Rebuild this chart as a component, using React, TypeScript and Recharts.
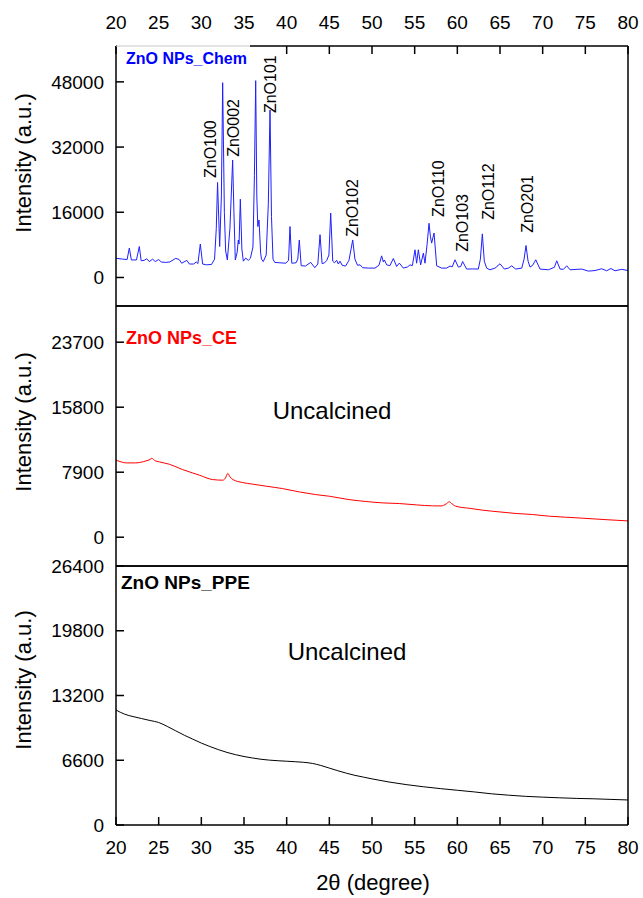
import React from 'react';
import { LineChart, Line, XAxis, YAxis, ReferenceDot } from 'recharts';

const FONT = '"Liberation Sans", Arial, Helvetica, sans-serif';

// 2θ axis, shared by the three panels
const xMajorTicks = [20, 25, 30, 35, 40, 45, 50, 55, 60, 65, 70, 75, 80];
const xMinorTicks = [22.5, 27.5, 32.5, 37.5, 42.5, 47.5, 52.5, 57.5, 62.5, 67.5, 72.5, 77.5];

// ZnO NPs_Chem (2θ, intensity)
const chemPattern: [number, number][] = [
  [20.0, 4700], [20.8, 4500], [21.3, 4400], [21.56, 7200], [21.8, 4300], [22.4, 4300],
  [22.73, 7600], [22.95, 4100], [23.3, 4200], [23.6, 4600], [23.9, 3900], [24.3, 4500],
  [24.6, 3900], [25.0, 4400], [25.3, 3800], [25.8, 3700], [26.3, 3800], [27.0, 4700],
  [27.4, 4400], [27.7, 3500], [28.3, 4200], [28.6, 3300], [29.1, 3300], [29.4, 3800],
  [29.6, 3400], [29.88, 8200], [30.15, 3300], [30.6, 3100], [31.2, 3200], [31.55, 4500],
  [31.75, 12000], [31.9, 23300], [32.15, 7600], [32.35, 20000], [32.5, 47800], [32.7, 16000],
  [32.85, 6500], [33.05, 4300], [33.35, 12000], [33.67, 28800], [33.82, 16000], [33.98, 4300],
  [34.2, 6200], [34.33, 9200], [34.42, 8200], [34.57, 19200], [34.75, 7000], [34.92, 4000],
  [35.2, 4750], [35.5, 4200], [35.75, 4700], [36.05, 7500], [36.22, 25000], [36.37, 48300],
  [36.5, 20000], [36.62, 12500], [36.76, 14100], [36.95, 6000], [37.05, 4500], [37.26, 3900],
  [37.6, 5500], [37.85, 18000], [38.05, 41100], [38.22, 15000], [38.4, 4500], [38.6, 3700],
  [39.2, 3600], [39.9, 3500], [40.22, 4200], [40.39, 12500], [40.6, 3500], [41.1, 3600],
  [41.3, 4500], [41.48, 9200], [41.7, 2900], [42.2, 2800], [42.82, 3700], [43.3, 2400],
  [43.65, 3300], [43.91, 10500], [44.15, 3400], [44.45, 3600], [44.7, 4200], [44.95, 5500],
  [45.16, 15800], [45.4, 4000], [45.6, 3600], [45.86, 4200], [46.05, 3300], [46.25, 4000],
  [46.5, 3000], [46.9, 2800], [47.3, 4200], [47.55, 7000], [47.74, 9200], [48.0, 4500],
  [48.3, 3000], [48.6, 3100], [48.9, 2400], [49.6, 2300], [50.35, 2300], [50.82, 3000],
  [51.13, 5300], [51.33, 3800], [51.45, 4300], [51.72, 3100], [52.1, 2900], [52.5, 4660],
  [52.89, 2700], [53.2, 3530], [53.67, 2300], [54.18, 2600], [54.45, 3100], [54.73, 2900],
  [55.04, 6790], [55.23, 3500], [55.43, 6790], [55.7, 3100], [56.02, 5980], [56.21, 3500],
  [56.45, 8000], [56.68, 13300], [56.85, 10000], [56.99, 8430], [57.27, 10900], [57.58, 2860],
  [58.16, 2300], [58.75, 2300], [59.14, 2800], [59.4, 2600], [59.73, 4340], [60.12, 2550],
  [60.4, 2700], [60.62, 3920], [61.09, 2060], [61.8, 2100], [62.46, 2060], [62.7, 4500],
  [62.93, 10700], [63.16, 4000], [63.44, 2300], [63.83, 1890], [64.42, 2300], [65.0, 3360],
  [65.51, 2060], [65.98, 2300], [66.37, 2860], [66.84, 2060], [67.55, 2300], [67.82, 4500],
  [68.05, 7840], [68.29, 4000], [68.52, 2550], [68.83, 3000], [69.19, 4340], [69.69, 2060],
  [70.67, 1890], [71.37, 2500], [71.65, 4100], [72.04, 2060], [72.43, 2000], [72.82, 2860],
  [73.21, 1890], [74.58, 2060], [75.36, 1560], [76.14, 1700], [76.92, 2140], [77.5, 1640],
  [78.0, 2200], [78.48, 1640], [79.26, 2000], [80.0, 1700],
];

// ZnO NPs_CE, uncalcined
const cePattern: [number, number][] = [
  [20.0, 9360], [20.6, 9150], [21.2, 9030], [22.3, 9030], [23.5, 9270], [24.0, 9450],
  [24.2, 9600], [24.5, 9350], [25.1, 9150], [26.25, 8870], [27.8, 8220], [29.0, 7800],
  [29.8, 7530], [31.3, 7010], [32.5, 6930], [32.8, 7150], [33.1, 7750], [33.35, 7350],
  [33.7, 7010], [34.8, 6650], [36.0, 6450], [37.6, 6200], [39.5, 5910], [41.5, 5500],
  [43.4, 5180], [45.0, 4980], [47.3, 4570], [49.2, 4350], [51.25, 4170], [53.2, 4090],
  [55.2, 3930], [57.1, 3810], [58.1, 3800], [58.7, 4050], [59.06, 4300], [59.5, 3950],
  [59.8, 3770], [61.5, 3500], [63.0, 3280], [65.0, 3070], [66.9, 2880], [68.8, 2760],
  [70.8, 2550], [72.7, 2430], [74.7, 2310], [77.3, 2140], [80.0, 1980],
];

// ZnO NPs_PPE, uncalcined
const ppePattern: [number, number][] = [
  [20, 11720], [21, 11300], [22, 11050], [23, 10850], [24, 10650], [25, 10450],
  [26, 10050], [27, 9600], [28, 9150], [29, 8750], [30, 8350], [31, 8000],
  [32, 7680], [33, 7400], [34, 7170], [35, 6980], [36, 6830], [37, 6700],
  [38, 6610], [39, 6550], [40, 6500], [41, 6450], [42, 6390], [43, 6280],
  [44, 6070], [45, 5800], [46, 5530], [47, 5280], [48, 5060], [49, 4880],
  [50, 4700], [52, 4380], [54, 4120], [56, 3900], [58, 3710], [60, 3540],
  [62, 3370], [64, 3180], [66, 3040], [68, 2920], [70, 2840], [72, 2770],
  [74, 2710], [76, 2670], [78, 2610], [80, 2550],
];

// hkl labels of the Chem pattern (2θ, intensity at the foot of the label)
const peakLabels: { name: string; t: number; v: number }[] = [
  { name: 'ZnO100', t: 31.02, v: 24400 },
  { name: 'ZnO002', t: 33.77, v: 29600 },
  { name: 'ZnO101', t: 38.05, v: 40350 },
  { name: 'ZnO102', t: 47.66, v: 9970 },
  { name: 'ZnO110', t: 57.8, v: 14870 },
  { name: 'ZnO103', t: 60.55, v: 6300 },
  { name: 'ZnO112', t: 63.6, v: 14140 },
  { name: 'ZnO201', t: 68.28, v: 10950 },
];

const chemYMajor = [0, 16000, 32000, 48000];
const chemYMinor = [8000, 24000, 40000, 56000];
const ceYMajor = [0, 7900, 15800, 23700];
const ceYMinor = [3950, 11850, 19750, 27650];
const ppeYMajor = [0, 6600, 13200, 19800, 26400];
const ppeYMinor = [3300, 9900, 16500, 23100];

const toRows = (pts: [number, number][]) => pts.map(([t, v]) => ({ t, v }));

const W = 643;
const H = 898;
const black = { stroke: '#000', strokeWidth: 1.5 };
const tickText = { fill: '#000', fontSize: 19, fontFamily: FONT };

// full box with inward ticks on all four sides
function frame(yDomain: [number, number], yMajor: number[], yMinor: number[], topLabels: boolean, bottomLabels: boolean) {
  const common = { type: 'number' as const, allowDataOverflow: true, interval: 0 as const };
  return [
    <XAxis key="xb" xAxisId="xb" dataKey="t" orientation="bottom" domain={[20, 80]} ticks={xMajorTicks} height={0.001}
      tickSize={-8} tickMargin={24} axisLine={black} tickLine={black} tick={bottomLabels ? tickText : false} {...common} />,
    <XAxis key="xbm" xAxisId="xbm" dataKey="t" orientation="bottom" domain={[20, 80]} ticks={xMinorTicks} height={0.001}
      tickSize={-4} axisLine={false} tickLine={black} tick={false} {...common} />,
    <XAxis key="xt" xAxisId="xt" dataKey="t" orientation="top" domain={[20, 80]} ticks={xMajorTicks} height={0.001}
      tickSize={-8} tickMargin={25} axisLine={black} tickLine={black} tick={topLabels ? tickText : false} {...common} />,
    <XAxis key="xtm" xAxisId="xtm" dataKey="t" orientation="top" domain={[20, 80]} ticks={xMinorTicks} height={0.001}
      tickSize={-4} axisLine={false} tickLine={black} tick={false} {...common} />,
    <YAxis key="yl" yAxisId="yl" dataKey="v" orientation="left" domain={yDomain} ticks={yMajor} width={0.001}
      tickSize={-8} tickMargin={20} axisLine={black} tickLine={black} tick={tickText} {...common} />,
    <YAxis key="ylm" yAxisId="ylm" dataKey="v" orientation="left" domain={yDomain} ticks={yMinor} width={0.001}
      tickSize={-4} axisLine={false} tickLine={black} tick={false} {...common} />,
    <YAxis key="yr" yAxisId="yr" dataKey="v" orientation="right" domain={yDomain} ticks={yMajor} width={0.001}
      tickSize={-8} axisLine={black} tickLine={black} tick={false} {...common} />,
    <YAxis key="yrm" yAxisId="yrm" dataKey="v" orientation="right" domain={yDomain} ticks={yMinor} width={0.001}
      tickSize={-4} axisLine={false} tickLine={black} tick={false} {...common} />,
  ];
}

const PeakLabel = (props: any) => {
  const vb = props.viewBox || {};
  const cx = vb.x + (vb.width || 0) / 2;
  const cy = vb.y + (vb.height || 0) / 2;
  return (
    <text x={cx} y={cy} transform={`rotate(-90 ${cx} ${cy})`} textAnchor="start" dominantBaseline="central"
      fontSize={16} fontFamily={FONT} fill="#000">
      {props.value}
    </text>
  );
};

const layer: React.CSSProperties = { position: 'absolute', left: 0, top: 0 };

export default function App() {
  return (
    <div style={{ position: 'absolute', left: 0, top: 0, width: W, height: H, background: '#fff' }}>
      <div style={layer}>
        <LineChart width={W} height={H} data={toRows(chemPattern)} margin={{ top: 46, right: 15, bottom: 592, left: 116 }}>
          {frame([-7000, 56800], chemYMajor, chemYMinor, true, false)}
          <Line xAxisId="xb" yAxisId="yl" type="linear" dataKey="v" stroke="#1f1fff" strokeWidth={1} dot={false} isAnimationActive={false} />
          {peakLabels.map((p) => (
            <ReferenceDot key={p.name} xAxisId="xb" yAxisId="yl" x={p.t} y={p.v} r={0.5} fill="none" stroke="none"
              label={{ value: p.name, content: PeakLabel }} />
          ))}
        </LineChart>
      </div>
      <div style={layer}>
        <LineChart width={W} height={H} data={toRows(cePattern)} margin={{ top: 306, right: 15, bottom: 332, left: 116 }}>
          {frame([-3500, 28100], ceYMajor, ceYMinor, false, false)}
          <Line xAxisId="xb" yAxisId="yl" type="monotone" dataKey="v" stroke="#ff0000" strokeWidth={1} dot={false} isAnimationActive={false} />
        </LineChart>
      </div>
      <div style={layer}>
        <LineChart width={W} height={H} data={toRows(ppePattern)} margin={{ top: 566, right: 15, bottom: 73, left: 116 }}>
          {frame([0, 26400], ppeYMajor, ppeYMinor, false, true)}
          <Line xAxisId="xb" yAxisId="yl" type="monotone" dataKey="v" stroke="#000" strokeWidth={1} dot={false} isAnimationActive={false} />
        </LineChart>
      </div>
      <svg width={W} height={H} style={{ ...layer, pointerEvents: 'none' }} fontFamily={FONT}>
        {/* legend box of the first panel sits over the top frame */}
        <rect x={117} y={45} width={133} height={26} fill="#fff" />
        <line x1={116} y1={46} x2={250} y2={46} stroke="#c8c8c8" strokeWidth={1} />
        <text x={126} y={64} fontSize={16} fontWeight="bold" fill="#0000ff">ZnO NPs_Chem</text>
        <text x={126} y={344} fontSize={18} fontWeight="bold" fill="#ff0000">ZnO NPs_CE</text>
        <text x={121} y={589} fontSize={19} fontWeight="bold" fill="#000">ZnO NPs_PPE</text>
        <text x={332} y={419} fontSize={24} textAnchor="middle" fill="#000">Uncalcined</text>
        <text x={347} y={660} fontSize={24} textAnchor="middle" fill="#000">Uncalcined</text>
        {[163, 422, 680].map((cy) => (
          <text key={cy} x={31} y={cy} transform={`rotate(-90 31 ${cy})`} fontSize={22} textAnchor="middle" fill="#000">
            Intensity (a.u.)
          </text>
        ))}
        <text x={373} y={890} fontSize={22} textAnchor="middle" fill="#000">2θ (degree)</text>
      </svg>
    </div>
  );
}
